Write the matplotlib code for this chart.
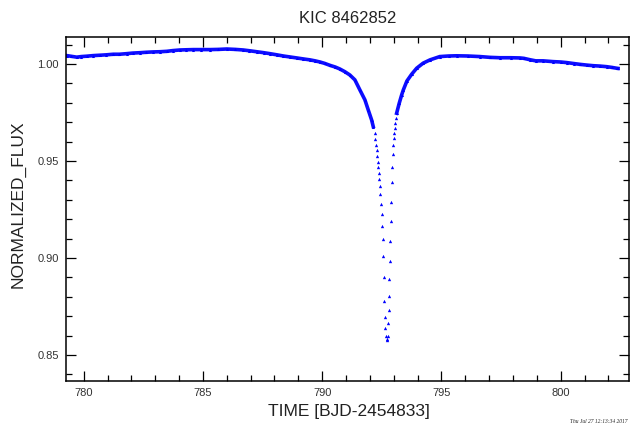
import matplotlib
matplotlib.use("Agg")
import matplotlib.pyplot as plt
from matplotlib.ticker import MultipleLocator

# light curve (BJD-2454833, normalized flux)
left_t = [779.29, 779.45, 779.71, 779.90, 780.13, 780.40, 780.68, 780.95, 781.24,
          781.50, 781.80, 782.05, 782.36, 782.60, 782.92, 783.20, 783.48, 783.75,
          784.04, 784.30, 784.60, 784.90, 785.30, 785.65, 786.00, 786.35, 786.69,
          786.95, 787.25, 787.55, 787.81, 788.10, 788.37, 788.65, 788.93, 789.20,
          789.49, 789.70, 789.91, 790.10, 790.32, 790.55, 790.74, 790.95, 791.16,
          791.37, 791.58, 791.79, 791.93, 792.07, 792.14]
left_f = [1.0043, 1.0040, 1.0035, 1.0038, 1.0040, 1.0043, 1.0045, 1.0047, 1.0050,
          1.0050, 1.0053, 1.0056, 1.0058, 1.0060, 1.0062, 1.0063, 1.0065, 1.0069,
          1.0072, 1.0073, 1.0074, 1.0074, 1.0074, 1.0075, 1.0077, 1.0075, 1.0072,
          1.0068, 1.0063, 1.0058, 1.0053, 1.0047, 1.0041, 1.0036, 1.0031, 1.0026,
          1.0021, 1.0016, 1.0010, 1.0003, 0.9993, 0.9984, 0.9974, 0.9960, 0.9943,
          0.9918, 0.9866, 0.9815, 0.9763, 0.9712, 0.9677]

dip_t = [792.21, 792.23, 792.25, 792.28, 792.30, 792.32, 792.35, 792.37, 792.39,
         792.42, 792.44, 792.46, 792.49, 792.51, 792.53, 792.56, 792.58, 792.60,
         792.63, 792.65, 792.67, 792.70,
         792.72, 792.74, 792.76, 792.78, 792.80, 792.82, 792.84, 792.86, 792.88,
         792.90, 792.92, 792.94, 792.96, 792.98, 793.00, 793.02, 793.04, 793.06,
         793.08]
dip_f = [0.9643, 0.9612, 0.9583, 0.9557, 0.9526, 0.9497, 0.9468, 0.9440, 0.9406,
         0.9369, 0.9330, 0.9279, 0.9227, 0.9166, 0.9097, 0.9011, 0.8900, 0.8779,
         0.8695, 0.8637, 0.8600, 0.8579,
         0.8582, 0.8596, 0.8665, 0.8733, 0.8805, 0.8891, 0.8982, 0.9085, 0.9193,
         0.9291, 0.9394, 0.9468, 0.9535, 0.9583, 0.9617, 0.9643, 0.9670, 0.9695,
         0.9720]

right_t = [793.12, 793.23, 793.33, 793.40, 793.55, 793.75, 793.96, 794.23, 794.52,
           794.93, 795.30, 795.63, 796.10, 796.61, 797.03, 797.45, 797.90, 798.29,
           798.45, 798.70, 798.95, 799.26, 799.68, 800.00, 800.25, 800.55, 800.80,
           801.10, 801.36, 801.65, 801.92, 802.15, 802.34, 802.40]
right_f = [0.9746, 0.9798, 0.9840, 0.9866, 0.9912, 0.9947, 0.9978, 1.0004, 1.0021,
           1.0038, 1.0041, 1.0042, 1.0041, 1.0038, 1.0034, 1.0032, 1.0032, 1.0031,
           1.0029, 1.0022, 1.0016, 1.0016, 1.0012, 1.0010, 1.0007, 1.0002, 0.9998,
           0.9994, 0.9991, 0.9989, 0.9986, 0.9982, 0.9978, 0.9977]

title = "KIC 8462852"
stamp = "Thu Jul 27 12:13:34 2017"
blue = "#0000ff"

plt.rcParams["font.family"] = ["Liberation Sans", "DejaVu Sans"]

fig = plt.figure(figsize=(6.31, 4.29), dpi=100)
ax = fig.add_axes([0.1046, 0.1119, 0.8922, 0.8019])

ax.plot(left_t, left_f, "-", color=blue, lw=2.6, alpha=0.95)
ax.plot(left_t, left_f, "^", color=blue, ms=2.2, mew=0)
ax.plot(right_t, right_f, "-", color=blue, lw=2.6, alpha=0.95)
ax.plot(right_t, right_f, "^", color=blue, ms=2.2, mew=0)
ax.plot(dip_t, dip_f, "^", color=blue, ms=2.4, mew=0, ls="none")

ax.set_xlim(779.26, 802.86)
ax.set_ylim(0.8366, 1.0139)
ax.xaxis.set_major_locator(MultipleLocator(5))
ax.xaxis.set_minor_locator(MultipleLocator(1))
ax.yaxis.set_major_locator(MultipleLocator(0.05))
ax.yaxis.set_minor_locator(MultipleLocator(0.01))
ax.yaxis.set_major_formatter(matplotlib.ticker.FormatStrFormatter("%.2f"))

ax.tick_params(which="both", direction="in", top=True, right=True,
               labelsize=8, labelcolor="#333333", width=0.9)
ax.tick_params(which="major", length=7, pad=5)
ax.tick_params(which="minor", length=4)
for s in ax.spines.values():
    s.set_linewidth(1.1)

ax.set_title(title, fontsize=12, color="#222222", pad=10)
ax.set_xlabel("TIME [BJD-2454833]", fontsize=12.5, color="#222222")
ax.set_ylabel("NORMALIZED_FLUX", fontsize=12.5, color="#222222")
ax.xaxis.set_label_coords(0.502, -0.068)
ax.yaxis.set_label_coords(-0.072, 0.514)

fig.text(0.995, 0.012, stamp, ha="right", va="bottom", fontsize=4,
         family="Liberation Serif", style="italic", color="#222222")

fig.savefig("out.png", dpi=100)
